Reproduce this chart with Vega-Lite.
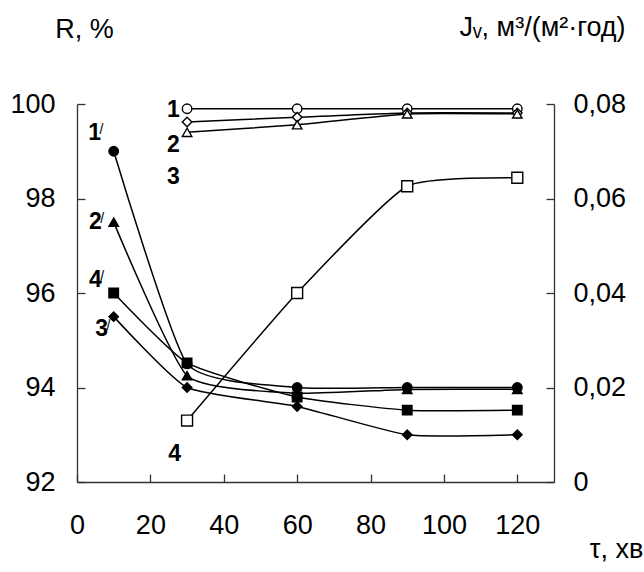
{
  "$schema": "https://vega.github.io/schema/vega-lite/v6.json",
  "width": 477,
  "height": 378,
  "autosize": "none",
  "padding": {"left": 77, "top": 104, "right": 90, "bottom": 90},
  "background": "white",
  "config": {
    "view": {"stroke": null},
    "font": "Liberation Sans",
    "axis": {
      "grid": false,
      "domainColor": "#333333",
      "domainWidth": 1.3,
      "tickColor": "#333333",
      "tickWidth": 1.3,
      "tickSize": -8,
      "labelFont": "Liberation Sans",
      "labelFontSize": 27,
      "labelColor": "black",
      "titleFont": "Liberation Sans",
      "titleFontSize": 27,
      "titleFontWeight": "normal",
      "titleColor": "black",
      "titleAngle": 0,
      "labelFlush": false,
      "labelOverlap": false
    }
  },
  "datasets": {
    "rejection": [
      {"t": 30, "R": 99.9, "s": "1"},
      {"t": 60, "R": 99.9, "s": "1"},
      {"t": 90, "R": 99.9, "s": "1"},
      {"t": 120, "R": 99.9, "s": "1"},
      {"t": 30, "R": 99.62, "s": "2"},
      {"t": 60, "R": 99.72, "s": "2"},
      {"t": 90, "R": 99.81, "s": "2"},
      {"t": 120, "R": 99.81, "s": "2"},
      {"t": 30, "R": 99.4, "s": "3"},
      {"t": 60, "R": 99.56, "s": "3"},
      {"t": 90, "R": 99.79, "s": "3"},
      {"t": 120, "R": 99.79, "s": "3"},
      {"t": 10, "R": 99.0, "s": "1′"},
      {"t": 30, "R": 94.5, "s": "1′"},
      {"t": 60, "R": 94.0, "s": "1′"},
      {"t": 90, "R": 94.0, "s": "1′"},
      {"t": 120, "R": 94.0, "s": "1′"},
      {"t": 10, "R": 97.5, "s": "2′"},
      {"t": 30, "R": 94.25, "s": "2′"},
      {"t": 60, "R": 93.88, "s": "2′"},
      {"t": 90, "R": 93.96, "s": "2′"},
      {"t": 120, "R": 93.96, "s": "2′"},
      {"t": 10, "R": 95.5, "s": "3′"},
      {"t": 30, "R": 94.0, "s": "3′"},
      {"t": 60, "R": 93.6, "s": "3′"},
      {"t": 90, "R": 93.0, "s": "3′"},
      {"t": 120, "R": 93.0, "s": "3′"},
      {"t": 10, "R": 96.0, "s": "4′"},
      {"t": 30, "R": 94.52, "s": "4′"},
      {"t": 60, "R": 93.8, "s": "4′"},
      {"t": 90, "R": 93.52, "s": "4′"},
      {"t": 120, "R": 93.52, "s": "4′"}
    ],
    "flux": [
      {"t": 30, "J": 0.013},
      {"t": 60, "J": 0.040},
      {"t": 90, "J": 0.0626},
      {"t": 120, "J": 0.0644}
    ],
    "curveLabels": [
      {"t": 26.3, "R": 99.88, "label": "1", "prime": false},
      {"t": 26.3, "R": 99.14, "label": "2", "prime": false},
      {"t": 26.3, "R": 98.45, "label": "3", "prime": false},
      {"t": 26.6, "R": 92.59, "label": "4", "prime": false},
      {"t": 4.8, "R": 99.39, "label": "1", "prime": true},
      {"t": 5.0, "R": 97.5, "label": "2", "prime": true},
      {"t": 5.0, "R": 96.27, "label": "4", "prime": true},
      {"t": 6.7, "R": 95.23, "label": "3", "prime": true}
    ]
  },
  "layer": [
    {
      "encoding": {
        "x": {
          "field": "t",
          "type": "quantitative",
          "scale": {"domain": [0, 130], "nice": false, "zero": false},
          "axis": {
            "values": [0, 20, 40, 60, 80, 100, 120],
            "title": "τ, хв",
            "titleX": 539,
            "titleY": 75,
            "titleAlign": "center",
            "titleBaseline": "alphabetic",
            "labelPadding": 38
          }
        },
        "y": {
          "field": "R",
          "type": "quantitative",
          "scale": {"domain": [92, 100], "nice": false, "zero": false},
          "axis": {
            "orient": "left",
            "values": [92, 94, 96, 98, 100],
            "title": "R, %",
            "titleX": 7,
            "titleY": -67,
            "titleAlign": "center",
            "titleBaseline": "alphabetic",
            "labelPadding": 30
          }
        }
      },
      "layer": [
        {
          "data": {"name": "rejection"},
          "mark": {"type": "line", "interpolate": "cardinal", "tension": 0.5, "color": "black", "strokeWidth": 1.5},
          "encoding": {"detail": {"field": "s"}}
        },
        {
          "data": {"name": "rejection"},
          "mark": {"type": "point", "stroke": "black", "strokeWidth": 1.4, "opacity": 1, "filled": false},
          "encoding": {
            "shape": {
              "field": "s",
              "scale": {
                "domain": ["1", "2", "3", "1′", "2′", "3′", "4′"],
                "range": ["circle", "diamond", "triangle-up", "circle", "triangle-up", "diamond", "square"]
              },
              "legend": null
            },
            "fill": {
              "field": "s",
              "scale": {
                "domain": ["1", "2", "3", "1′", "2′", "3′", "4′"],
                "range": ["white", "white", "white", "black", "black", "black", "black"]
              },
              "legend": null
            },
            "size": {
              "field": "s",
              "scale": {
                "domain": ["1", "2", "3", "1′", "2′", "3′", "4′"],
                "range": [90, 90, 80, 140, 140, 140, 130]
              },
              "legend": null
            }
          }
        },
        {
          "data": {"name": "curveLabels"},
          "mark": {"type": "text", "font": "Liberation Sans", "fontSize": 23, "fontWeight": "bold", "align": "center", "baseline": "middle", "color": "black"},
          "encoding": {"text": {"field": "label"}}
        },
        {
          "data": {"name": "curveLabels"},
          "transform": [{"filter": "datum.prime"}],
          "mark": {"type": "text", "font": "Liberation Sans", "fontSize": 14, "align": "left", "baseline": "top", "dx": 5, "dy": -10, "color": "black", "text": "/"}
        }
      ]
    },
    {
      "data": {"name": "flux"},
      "encoding": {
        "x": {
          "field": "t",
          "type": "quantitative",
          "scale": {"domain": [0, 130], "nice": false, "zero": false},
          "axis": {
            "values": [0, 20, 40, 60, 80, 100, 120],
            "title": "τ, хв",
            "titleX": 539,
            "titleY": 75,
            "titleAlign": "center",
            "titleBaseline": "alphabetic",
            "labelPadding": 38
          }
        },
        "y": {
          "field": "J",
          "type": "quantitative",
          "scale": {"domain": [0, 0.08], "nice": false, "zero": true},
          "axis": {
            "orient": "right",
            "values": [0, 0.02, 0.04, 0.06, 0.08],
            "labelExpr": "datum.value == 0 ? '0' : replace(format(datum.value, '.2f'), '.', ',')",
            "title": "Jᵥ, м³/(м²·год)",
            "titleX": -12,
            "titleY": -69,
            "titleAlign": "center",
            "titleBaseline": "alphabetic",
            "labelPadding": 27
          }
        }
      },
      "layer": [
        {
          "mark": {"type": "line", "interpolate": "cardinal", "tension": 0.5, "color": "black", "strokeWidth": 1.5}
        },
        {
          "mark": {"type": "square", "size": 120, "fill": "white", "stroke": "black", "strokeWidth": 1.4, "opacity": 1}
        }
      ]
    }
  ],
  "resolve": {"scale": {"y": "independent"}}
}
